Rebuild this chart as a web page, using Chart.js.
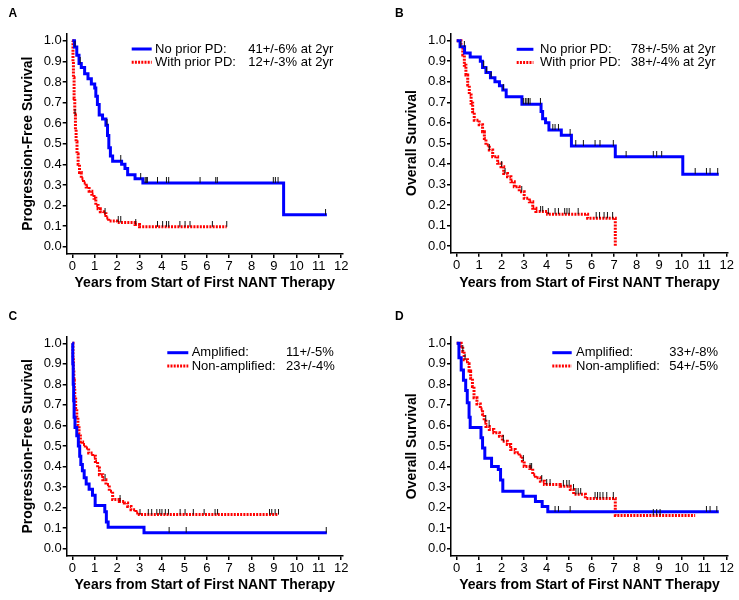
<!DOCTYPE html>
<html>
<head>
<meta charset="utf-8">
<script src="https://cdn.jsdelivr.net/npm/chart.js@4.4.1/dist/chart.umd.min.js"></script>
<style>
  body { margin: 0; background: #fff; }
  #wrap { position: relative; width: 739px; height: 600px; }
  canvas { position: absolute; }
</style>
</head>
<body>
<div id="wrap">
  <canvas id="chartA" width="369" height="300" style="left:0;top:0"></canvas>
  <canvas id="chartB" width="370" height="300" style="left:369px;top:0"></canvas>
  <canvas id="chartC" width="369" height="300" style="left:0;top:300px"></canvas>
  <canvas id="chartD" width="370" height="300" style="left:369px;top:300px"></canvas>
</div>
<script>
Chart.defaults.font.family = '"Liberation Sans", Arial, sans-serif';
Chart.defaults.color = '#000';

// tick labels
const yearTicks = [0, 1, 2, 3, 4, 5, 6, 7, 8, 9, 10, 11, 12];
const survTicks = [0, 0.1, 0.2, 0.3, 0.4, 0.5, 0.6, 0.7, 0.8, 0.9, 1.0];

// A - progression-free survival by prior PD
const aNoPriorT = [0, 0.1, 0.2, 0.3, 0.4, 0.55, 0.7, 0.85, 1.0, 1.05, 1.12, 1.2, 1.35, 1.5, 1.57, 1.63, 1.7, 1.8, 2.2, 2.35, 2.47, 2.8, 3.15, 9.43, 11.36];
const aNoPriorS = [1, 0.97, 0.93, 0.89, 0.87, 0.84, 0.815, 0.79, 0.77, 0.73, 0.69, 0.64, 0.62, 0.59, 0.54, 0.48, 0.44, 0.415, 0.4, 0.38, 0.35, 0.33, 0.31, 0.155, 0.155];
const aNoPriorCens = [0.12, 0.35, 1.55, 2.16, 3.05, 3.25, 3.3, 3.35, 3.8, 4.2, 4.3, 5.7, 6.4, 6.47, 8.97, 9.06, 9.18, 11.3];
const aWithPriorT = [0, 0.03, 0.05, 0.08, 0.11, 0.14, 0.17, 0.21, 0.26, 0.32, 0.4, 0.5, 0.62, 0.75, 0.87, 0.97, 1.05, 1.15, 1.25, 1.4, 1.5, 1.62, 2.0, 2.8, 3.0, 6.89];
const aWithPriorS = [1, 0.9, 0.82, 0.72, 0.64, 0.57, 0.51, 0.45, 0.4, 0.36, 0.33, 0.31, 0.29, 0.27, 0.255, 0.235, 0.2, 0.185, 0.17, 0.16, 0.14, 0.125, 0.118, 0.108, 0.097, 0.097];
const aWithPriorCens = [0.12, 1.46, 2.05, 2.16, 2.83, 3.8, 4.03, 4.2, 4.3, 4.8, 5.03, 5.25, 6.25, 6.89];

// B - overall survival by prior PD
const bNoPriorT = [0, 0.15, 0.35, 0.6, 1.05, 1.15, 1.3, 1.5, 1.7, 1.9, 2.05, 2.2, 2.9, 3.75, 3.82, 3.95, 4.1, 4.65, 5.1, 7.05, 10.05, 11.65];
const bNoPriorS = [1, 0.97, 0.94, 0.92, 0.9, 0.87, 0.845, 0.82, 0.8, 0.78, 0.76, 0.727, 0.69, 0.655, 0.62, 0.6, 0.565, 0.54, 0.487, 0.435, 0.35, 0.35];
const bNoPriorCens = [0.18, 0.34, 1.2, 1.33, 1.53, 2.07, 2.96, 3.05, 3.12, 3.19, 3.26, 3.72, 4.27, 4.37, 4.52, 5.04, 5.29, 5.63, 6.15, 6.37, 6.96, 7.53, 8.74, 8.89, 9.11, 10.6, 11.1, 11.26, 11.6];
const bWithPriorT = [0, 0.19, 0.27, 0.34, 0.41, 0.49, 0.56, 0.64, 0.71, 0.78, 1.0, 1.15, 1.23, 1.3, 1.45, 1.6, 1.82, 1.97, 2.09, 2.26, 2.41, 2.56, 2.78, 3.0, 3.23, 3.38, 3.52, 4.04, 5.82, 7.05];
const bWithPriorS = [1, 0.963, 0.93, 0.88, 0.833, 0.784, 0.736, 0.695, 0.654, 0.613, 0.59, 0.556, 0.524, 0.492, 0.468, 0.435, 0.403, 0.386, 0.353, 0.337, 0.313, 0.289, 0.264, 0.232, 0.216, 0.184, 0.168, 0.155, 0.135, 0];
const bWithPriorCens = [1.45, 2.0, 2.15, 2.89, 3.73, 3.82, 4.07, 4.37, 4.52, 4.8, 4.9, 5.0, 5.4, 6.2, 6.35, 6.55, 6.7, 6.93];

// C - progression-free survival by MYCN status
const cAmpT = [0, 0.02, 0.04, 0.06, 0.08, 0.12, 0.2, 0.27, 0.33, 0.38, 0.45, 0.53, 0.62, 0.75, 0.9, 1.02, 1.45, 1.52, 1.6, 3.2, 11.36];
const cAmpS = [1, 0.9, 0.8, 0.72, 0.64, 0.59, 0.55, 0.5, 0.45, 0.41, 0.38, 0.345, 0.315, 0.29, 0.26, 0.21, 0.18, 0.13, 0.105, 0.078, 0.078];
const cAmpCens = [4.32, 5.08, 11.33];
const cNonAmpT = [0, 0.03, 0.05, 0.07, 0.09, 0.11, 0.15, 0.2, 0.25, 0.3, 0.36, 0.46, 0.58, 0.73, 0.91, 1.03, 1.13, 1.21, 1.36, 1.5, 1.65, 1.8, 2.1, 2.32, 2.47, 2.62, 2.84, 2.99, 9.2];
const cNonAmpS = [1, 0.93, 0.87, 0.82, 0.78, 0.74, 0.68, 0.64, 0.6, 0.56, 0.52, 0.507, 0.49, 0.466, 0.45, 0.425, 0.393, 0.36, 0.336, 0.312, 0.28, 0.239, 0.23, 0.223, 0.206, 0.19, 0.174, 0.166, 0.166];
const cNonAmpCens = [1.46, 2.13, 3.02, 3.39, 3.54, 3.77, 3.9, 4.0, 4.15, 4.29, 4.81, 5.03, 5.4, 5.88, 6.37, 6.48, 8.8, 8.9, 9.05, 9.2];

// D - overall survival by MYCN status
const dAmpT = [0, 0.1, 0.2, 0.3, 0.4, 0.47, 0.55, 0.6, 1.08, 1.15, 1.25, 1.55, 1.85, 1.95, 2.05, 2.95, 3.5, 3.8, 4.05, 11.65];
const dAmpS = [1, 0.93, 0.87, 0.82, 0.77, 0.71, 0.64, 0.59, 0.54, 0.49, 0.44, 0.4, 0.385, 0.335, 0.28, 0.255, 0.23, 0.205, 0.18, 0.18];
const dAmpCens = [4.37, 4.52, 5.04, 11.1, 11.26, 11.56];
const dNonAmpT = [0, 0.2, 0.27, 0.33, 0.48, 0.55, 0.62, 0.7, 0.77, 0.9, 1.05, 1.15, 1.22, 1.3, 1.45, 1.65, 1.9, 2.03, 2.25, 2.4, 2.6, 2.78, 2.92, 3.0, 3.25, 3.38, 3.5, 3.72, 3.9, 4.6, 5.05, 5.2, 5.72, 7.05, 10.6];
const dNonAmpS = [1, 0.985, 0.96, 0.92, 0.9, 0.865, 0.83, 0.79, 0.735, 0.705, 0.68, 0.655, 0.62, 0.595, 0.58, 0.565, 0.548, 0.523, 0.507, 0.483, 0.467, 0.45, 0.427, 0.4, 0.39, 0.36, 0.345, 0.328, 0.312, 0.304, 0.288, 0.265, 0.245, 0.162, 0.162];
const dNonAmpCens = [0.27, 0.37, 1.29, 1.44, 2.07, 2.96, 3.26, 3.33, 3.78, 4.0, 4.15, 4.74, 4.89, 5.0, 5.19, 5.3, 5.4, 5.51, 6.15, 6.26, 6.37, 6.5, 6.67, 6.96, 8.74, 8.89, 9.04];

const BLUE = '#0000ff';
const RED = '#ff0000';

const toPoints = (t, s) => t.map((v, i) => ({ x: v, y: s[i] }));

// value of the step curve at a given time
const survAt = (t, s, time) => {
    let v = s[0];
    for (let i = 0; i < t.length; i++) {
        if (t[i] <= time) v = s[i];
    }
    return v;
};
const censorPoints = (t, s, cens) => cens.map(c => ({ x: c, y: survAt(t, s, c) }));

// small vertical tick used for censored patients
const tickMark = document.createElement('canvas');
tickMark.width = 3;
tickMark.height = 12;
const tctx = tickMark.getContext('2d');
tctx.fillStyle = '#111';
tctx.fillRect(1, 0, 1, 6);

// legend drawn inside the plot, two columns
const kmLegend = {
    id: 'kmLegend',
    afterDatasetsDraw(chart, args, opts) {
        const ctx = chart.ctx;
        const lines = chart.data.datasets.filter(ds => ds.note);
        ctx.save();
        ctx.font = '13px "Liberation Sans", Arial, sans-serif';
        ctx.textBaseline = 'middle';
        lines.forEach((ds, i) => {
            const y = opts.y + i * opts.gap;
            ctx.strokeStyle = ds.borderColor;
            ctx.lineWidth = ds.borderWidth;
            ctx.setLineDash(ds.borderDash || []);
            ctx.beginPath();
            ctx.moveTo(opts.x, y);
            ctx.lineTo(opts.x + opts.w, y);
            ctx.stroke();
            ctx.fillStyle = '#000';
            ctx.fillText(ds.label, opts.textX, y);
            ctx.fillText(ds.note, opts.valueX, y);
        });
        ctx.restore();
    }
};

const curve = (label, note, t, s, color, dash) => ({
    label: label,
    note: note,
    data: toPoints(t, s),
    borderColor: color,
    borderWidth: 3,
    borderDash: dash,
    stepped: 'before',
    pointRadius: 0,
    fill: false,
    order: 1
});

const censors = (t, s, cens) => ({
    label: 'censored',
    data: censorPoints(t, s, cens),
    showLine: false,
    pointStyle: tickMark,
    pointRadius: 3,
    order: 0
});

const buildChart = (id, p) => new Chart(document.getElementById(id), {
    type: 'line',
    data: {
        datasets: [
            curve(p.blue[0], p.blue[1], p.blue[2], p.blue[3], BLUE, []),
            curve(p.red[0], p.red[1], p.red[2], p.red[3], RED, [2, 1.2]),
            censors(p.blue[2], p.blue[3], p.blue[4]),
            censors(p.red[2], p.red[3], p.red[4])
        ]
    },
    options: {
        responsive: false,
        animation: false,
        events: [],
        layout: { padding: { left: p.padL, right: p.padR, top: 0, bottom: 0 } },
        plugins: {
            legend: { display: false },
            tooltip: { enabled: false },
            title: {
                display: true,
                text: p.letter,
                align: 'start',
                color: '#000',
                font: { size: 12, weight: 'bold' },
                padding: { top: p.tTop, bottom: p.tBottom }
            },
            kmLegend: p.legend
        },
        scales: {
            x: {
                type: 'linear',
                min: p.xMin,
                max: p.xMax,
                afterBuildTicks: s => { s.ticks = yearTicks.map(v => ({ value: v })); },
                afterFit: s => { s.height = p.xH; },
                border: { color: '#000', width: 1.5 },
                grid: { drawOnChartArea: false, color: '#000', tickLength: 4, lineWidth: 1.5 },
                ticks: { font: { size: 13 }, padding: 1, color: '#000', maxRotation: 0, autoSkip: false },
                title: {
                    display: true,
                    text: 'Years from Start of First NANT Therapy',
                    color: '#000',
                    font: { size: 14, weight: 'bold' },
                    padding: { top: 0, bottom: p.xTitlePad }
                }
            },
            y: {
                type: 'linear',
                min: p.yMin,
                max: p.yMax,
                afterBuildTicks: s => { s.ticks = survTicks.map(v => ({ value: v })); },
                afterFit: s => { s.width = p.yW; },
                border: { color: '#000', width: 1.5 },
                grid: { drawOnChartArea: false, color: '#000', tickLength: 4, lineWidth: 1.5 },
                ticks: { font: { size: 13 }, padding: 1, color: '#000', autoSkip: false, callback: v => v.toFixed(1) },
                title: {
                    display: true,
                    text: p.yTitle,
                    color: '#000',
                    font: { size: 14, weight: 'bold' },
                    padding: { top: p.yTitlePad, bottom: 0 }
                }
            }
        }
    },
    plugins: [kmLegend]
});

buildChart('chartA', {
    letter: 'A', yTitle: 'Progression-Free Survival',
    blue: ['No prior PD:', '41+/-6% at 2yr', aNoPriorT, aNoPriorS, aNoPriorCens],
    red: ['With prior PD:', '12+/-3% at 2yr', aWithPriorT, aWithPriorS, aWithPriorCens],
    padL: 8.5, padR: 26, yW: 58.2, xH: 46, tTop: 6.8, tBottom: 12.1,
    xMin: -0.25, xMax: 12.08, yMin: -0.035, yMax: 1.036,
    yTitlePad: 11.4, xTitlePad: 8.6,
    legend: { x: 131.7, y: 49, w: 20, textX: 155, valueX: 248.3, gap: 13.3 }
});

buildChart('chartB', {
    letter: 'B', yTitle: 'Overall Survival',
    blue: ['No prior PD:', '78+/-5% at 2yr', bNoPriorT, bNoPriorS, bNoPriorCens],
    red: ['With prior PD:', '38+/-4% at 2yr', bWithPriorT, bWithPriorS, bWithPriorCens],
    padL: 26, padR: 11, yW: 56, xH: 47.3, tTop: 6.8, tBottom: 12.1,
    xMin: -0.253, xMax: 12.06, yMin: -0.0326, yMax: 1.036,
    yTitlePad: 8.3, xTitlePad: 8.6,
    legend: { x: 147.7, y: 49.3, w: 16.7, textX: 171, valueX: 261.7, gap: 13.3 }
});

buildChart('chartC', {
    letter: 'C', yTitle: 'Progression-Free Survival',
    blue: ['Amplified:', '11+/-5%', cAmpT, cAmpS, cAmpCens],
    red: ['Non-amplified:', '23+/-4%', cNonAmpT, cNonAmpS, cNonAmpCens],
    padL: 8.5, padR: 26, yW: 58.2, xH: 44, tTop: 9.5, tBottom: 12.8,
    xMin: -0.25, xMax: 12.08, yMin: -0.0355, yMax: 1.032,
    yTitlePad: 11.4, xTitlePad: 6.6,
    legend: { x: 167.3, y: 52.7, w: 21, textX: 191.7, valueX: 286, gap: 13.3 }
});

buildChart('chartD', {
    letter: 'D', yTitle: 'Overall Survival',
    blue: ['Amplified:', '33+/-8%', dAmpT, dAmpS, dAmpCens],
    red: ['Non-amplified:', '54+/-5%', dNonAmpT, dNonAmpS, dNonAmpCens],
    padL: 26, padR: 11, yW: 56, xH: 44, tTop: 9.5, tBottom: 12.8,
    xMin: -0.253, xMax: 12.06, yMin: -0.0355, yMax: 1.032,
    yTitlePad: 8.3, xTitlePad: 6.6,
    legend: { x: 183.3, y: 52.7, w: 19.4, textX: 207, valueX: 300.3, gap: 13.3 }
});
</script>
</body>
</html>
